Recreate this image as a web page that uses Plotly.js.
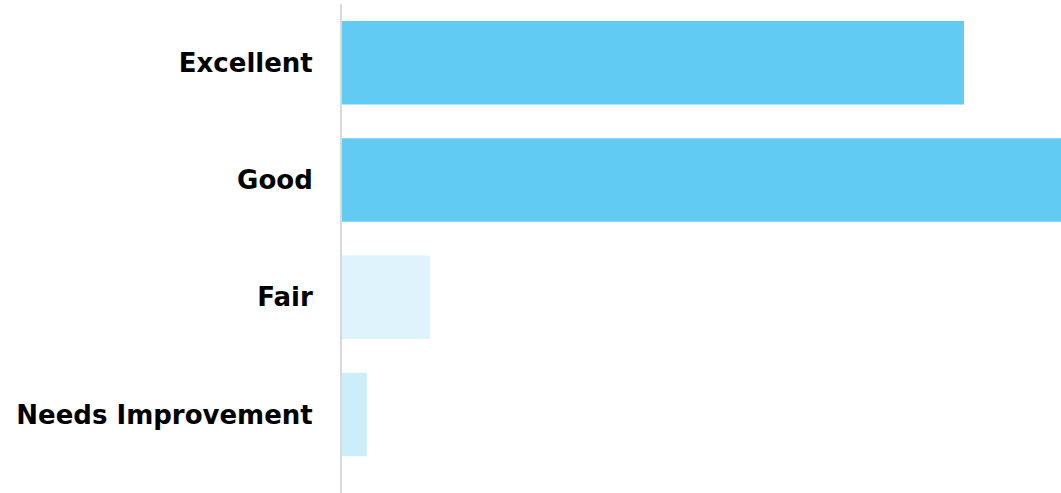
<!DOCTYPE html>
<html>
<head>
<meta charset="utf-8">
<script src="https://cdn.plot.ly/plotly-3.0.1.min.js"></script>
<style>html,body{margin:0;padding:0;background:#fff;}#chart{width:1061px;height:493px;}</style>
</head>
<body>
<div id="chart"></div>
<script>
const categories = ["Excellent", "Good", "Fair", "Needs Improvement"];
const values = [50, 58, 7.1, 2];
const barColors = ["#61CBF3", "#61CBF3", "#DFF3FC", "#CCEEFB"];

Plotly.newPlot("chart", [{
  type: "bar",
  orientation: "h",
  y: categories,
  x: values,
  marker: {color: barColors, line: {width: 0}},
  hoverinfo: "skip"
}], {
  width: 1061,
  height: 493,
  margin: {l: 342, r: 0, t: 4, b: 0, pad: 0},
  paper_bgcolor: "#ffffff",
  plot_bgcolor: "#ffffff",
  bargap: 0.288,
  showlegend: false,
  font: {family: "DejaVu Sans", color: "#000000"},
  xaxis: {
    range: [0, 57.8],
    autorange: false,
    showgrid: false,
    zeroline: false,
    showline: false,
    showticklabels: false,
    ticks: ""
  },
  yaxis: {
    type: "category",
    categoryorder: "array",
    categoryarray: categories,
    range: [3.67, -0.5],
    autorange: false,
    showgrid: false,
    zeroline: false,
    showline: true,
    linecolor: "#D9D9D9",
    linewidth: 2,
    ticks: "",
    ticklabelstandoff: 22,
    tickfont: {family: "DejaVu Sans", size: 26, color: "#000000", weight: "bold"}
  }
}, {displayModeBar: false, staticPlot: true});
</script>
</body>
</html>
